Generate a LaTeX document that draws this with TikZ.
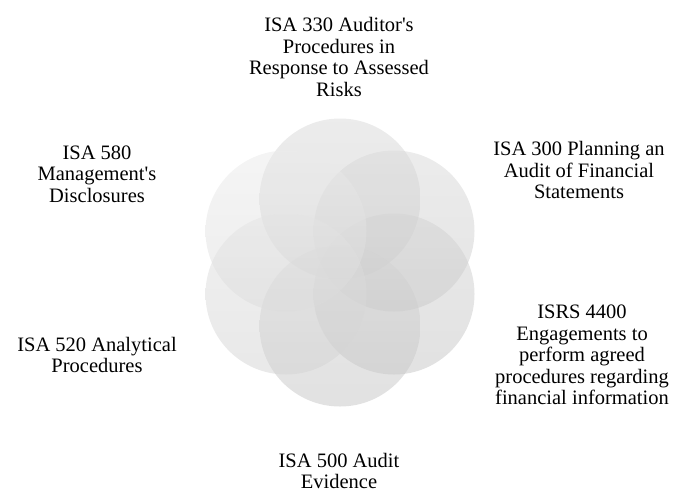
\documentclass[tikz,border=0pt]{standalone}
\usepackage{fontspec}
\setmainfont{Liberation Serif}[Ligatures=TeXOff]
\usepackage{xcolor}
\usepackage{tikz}

\tikzset{
  petal/.style 2 args={circle, draw=none, inner sep=0pt, minimum size=161pt,
    top color=gray!#1, bottom color=gray!#2, fill opacity=0.5},
  isa/.style={align=center, inner sep=0pt,
    font=\fontsize{20.5}{21.5}\selectfont}
}

\begin{document}
\begin{tikzpicture}[x=1pt, y=-1pt]
    \useasboundingbox (0,0) rectangle (674,493);
    % circles, clockwise from the top
    \node[petal={30}{42}] (c330) at (340,199) {};
    \node[petal={30}{42}] (c300) at (394,231) {};
    \node[petal={34}{46}] (c4400) at (394,294) {};
    \node[petal={34}{46}] (c500) at (340,326) {};
    \node[petal={23}{35}] (c520) at (286,294) {};
    \node[petal={16}{28}] (c580) at (286,231) {};
    % labels
    \node[isa] (t330) at (339,57) {ISA 330 Auditor's\\Procedures in\\Response to Assessed\\Risks};
    \node[isa] (t300) at (579,170) {ISA 300 Planning an\\Audit of Financial\\Statements};
    \node[isa] (t4400) at (582,355) {ISRS 4400\\Engagements to\\perform agreed\\procedures regarding\\financial information};
    \node[isa] (t500) at (339,471) {ISA 500 Audit\\Evidence};
    \node[isa] (t520) at (97,355) {ISA 520 Analytical\\Procedures};
    \node[isa] (t580) at (97,174) {ISA 580\\Management's\\Disclosures};
\end{tikzpicture}
\end{document}
